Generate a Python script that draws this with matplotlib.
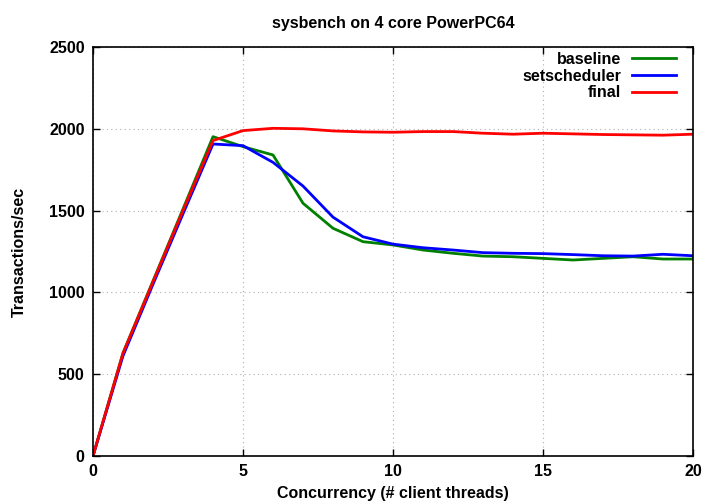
import matplotlib
matplotlib.use('Agg')
from matplotlib import pyplot as plt

threads = list(range(0, 21))
baseline = [0, 630, 1070, 1510, 1952, 1891, 1840, 1545, 1392, 1310, 1290,
            1259, 1239, 1222, 1218, 1208, 1198, 1208, 1218, 1204, 1204]
setscheduler = [0, 612, 1050, 1480, 1907, 1897, 1795, 1650, 1460, 1340, 1295,
                1273, 1259, 1243, 1239, 1237, 1231, 1224, 1222, 1233, 1224]
final = [0, 628, 1065, 1500, 1928, 1989, 2003, 2000, 1987, 1981, 1979,
         1983, 1983, 1973, 1967, 1973, 1969, 1965, 1963, 1961, 1967]

plt.rcParams['font.family'] = ['Liberation Sans', 'DejaVu Sans']
plt.rcParams['font.weight'] = 'bold'
fs = 11.5

fig = plt.figure(figsize=(7.2, 5.04), dpi=100)
ax = fig.add_axes([93 / 720, 48 / 504, 600 / 720, 409 / 504])

ax.plot(threads, baseline, color='#008000', lw=2, label='baseline')
ax.plot(threads, setscheduler, color='#0000ff', lw=2, label='setscheduler')
ax.plot(threads, final, color='#ff0000', lw=2, label='final')

ax.set_xlim(0, 20)
ax.set_ylim(0, 2500)
ax.set_xticks(range(0, 21, 5))
ax.set_yticks(range(0, 2501, 500))
ax.tick_params(direction='in', length=5, width=1, top=True, right=True,
               labelsize=fs, pad=6)
for lbl in ax.get_xticklabels() + ax.get_yticklabels():
    lbl.set_fontweight('bold')
ax.grid(True, color='#b0b0b0', linestyle=(0, (1, 3)), lw=0.8)
for s in ax.spines.values():
    s.set_linewidth(1.2)

ax.set_title('sysbench on 4 core PowerPC64', fontsize=fs, fontweight='bold', pad=14)
ax.set_xlabel('Concurrency (# client threads)', fontsize=fs, fontweight='bold', labelpad=5)
ax.set_ylabel('Transactions/sec', fontsize=fs, fontweight='bold', labelpad=16)

leg = ax.legend(loc='upper right', bbox_to_anchor=(0.972, 0.988), frameon=False,
                markerfirst=False, fontsize=fs, handlelength=2.75,
                labelspacing=0.1, borderaxespad=0, borderpad=0,
                handletextpad=0.7)
for t in leg.get_texts():
    t.set_fontweight('bold')
    t.set_ha('right')

plt.savefig('out.png', dpi=100)
